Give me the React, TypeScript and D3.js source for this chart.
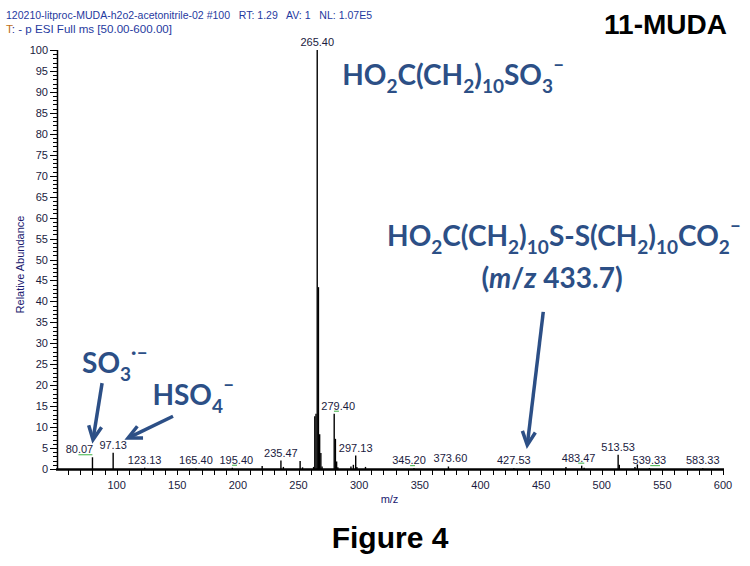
import React from "react";
import * as d3 from "d3";

// ---- data ----
const PEAK_MZ = [80.07, 97.13, 123.13, 165.4, 195.4, 220.0, 235.47, 237.5, 251.3, 253.3, 262.4, 263.4, 264.4, 265.4, 266.4, 267.4, 268.4, 269.4, 279.4, 280.4, 281.4, 282.4, 293.2, 295.2, 297.13, 298.1, 305.2, 345.2, 373.6, 427.53, 470.5, 483.47, 485.5, 513.53, 514.5, 527.4, 529.4, 539.33, 583.33];
const PEAK_ABUND = [2.8, 3.9, 0.3, 0.2, 0.3, 0.7, 2.0, 0.5, 1.9, 0.4, 0.5, 12.6, 13.2, 100, 43.4, 8.3, 3.8, 0.6, 13.2, 7.2, 1.8, 0.4, 0.6, 1.0, 3.2, 0.5, 0.5, 0.2, 0.6, 0.2, 0.5, 0.8, 0.3, 3.4, 1.0, 0.5, 1.1, 0.2, 0.2];

const LABEL_TEXT = ["80.07", "97.13", "123.13", "165.40", "195.40", "235.47", "265.40", "279.40", "297.13", "345.20", "373.60", "427.53", "483.47", "513.53", "539.33", "583.33"];
const LABEL_MZ = [80.07, 97.13, 123.13, 165.4, 195.4, 235.47, 265.4, 279.4, 297.13, 345.2, 373.6, 427.53, 483.47, 513.53, 539.33, 583.33];
const LABEL_DX = [-13, 0, 0, 0, 4, 0, 0, 4, 0, -5, 2, 0, -3, 0, 0, 0];

// small green marks under some labels (m/z from, m/z to, label m/z)
const GREEN_MARKS = [
  [68.5, 80.0, 80.07],
  [195.2, 199.3, 195.4],
  [279.2, 283.3, 279.4],
  [342.0, 346.0, 345.2],
  [480.6, 485.6, 483.47],
  [540.0, 548.0, 539.33],
];

const X_DOMAIN = [50, 600];
const Y_DOMAIN = [0, 100];
const X_MAJOR = [100, 150, 200, 250, 300, 350, 400, 450, 500, 550, 600];
const Y_MAJOR = [0, 5, 10, 15, 20, 25, 30, 35, 40, 45, 50, 55, 60, 65, 70, 75, 80, 85, 90, 95, 100];

const HEADER1 = "120210-litproc-MUDA-h2o2-acetonitrile-02 #100   RT: 1.29   AV: 1   NL: 1.07E5";
const HEADER2 = ": - p ESI Full ms [50.00-600.00]";

// arrows in data units: [fromMz, fromAbund, toMz, toAbund]
const ARROWS = [
  [88, 20.5, 80.5, 7.0],
  [146.5, 12.6, 109.4, 7.4],
  [451.8, 37.5, 438.6, 5.7],
];

type Seg = { t: string; k: "n" | "sub" | "sup" | "i" };
const F1: Seg[] = [
  { t: "HO", k: "n" }, { t: "2", k: "sub" }, { t: "C(CH", k: "n" }, { t: "2", k: "sub" }, { t: ")", k: "n" },
  { t: "10", k: "sub" }, { t: "SO", k: "n" }, { t: "3", k: "sub" }, { t: "\u2013", k: "sup" },
];
const F2: Seg[] = [
  { t: "HO", k: "n" }, { t: "2", k: "sub" }, { t: "C(CH", k: "n" }, { t: "2", k: "sub" }, { t: ")", k: "n" },
  { t: "10", k: "sub" }, { t: "S-S(CH", k: "n" }, { t: "2", k: "sub" }, { t: ")", k: "n" }, { t: "10", k: "sub" },
  { t: "CO", k: "n" }, { t: "2", k: "sub" }, { t: "\u2013", k: "sup" },
];
const F3: Seg[] = [
  { t: "(", k: "n" }, { t: "m", k: "i" }, { t: "/", k: "n" }, { t: "z", k: "i" }, { t: " 433.7)", k: "n" },
];
const F4: Seg[] = [
  { t: "SO", k: "n" }, { t: "3", k: "sub" }, { t: "\u00b7\u2013", k: "sup" },
];
const F5: Seg[] = [
  { t: "HSO", k: "n" }, { t: "4", k: "sub" }, { t: "\u2013", k: "sup" },
];

// annotation anchors in data units
const ANNOTS = [
  { segs: F1, mz: 286, ab: 91.6, anchor: "start" },
  { segs: F2, mz: 323, ab: 53.2, anchor: "start" },
  { segs: F3, mz: 459, ab: 43.2, anchor: "middle" },
  { segs: F4, mz: 71.5, ab: 22.9, anchor: "start" },
  { segs: F5, mz: 129.5, ab: 15.3, anchor: "start" },
];

const BLUE = "#2c4f86";
const SANS = "'Liberation Sans', Arial, sans-serif";

function Formula({ x, y, size, segs, anchor }: { x: number; y: number; size: number; segs: Seg[]; anchor: string }) {
  let cur = 0;
  return (
    <text x={x} y={y} fontSize={size} textAnchor={anchor} fill={BLUE} fontWeight={700} fontFamily="Lato, 'Open Sans', sans-serif">
      {segs.map((s, i) => {
        const target = s.k === "sub" ? size * 0.28 : s.k === "sup" ? -size * 0.5 : 0;
        const dy = target - cur;
        cur = target;
        const fs = s.k === "sub" ? size * 0.68 : s.k === "sup" ? size * 0.7 : size;
        return (
          <tspan key={i} dy={dy} fontSize={fs} fontStyle={s.k === "i" ? "italic" : "normal"}>
            {s.t}
          </tspan>
        );
      })}
    </text>
  );
}

export default function App() {
  const W = 750, H = 566;
  const x = d3.scaleLinear().domain(X_DOMAIN).range([56, 723]);
  const y = d3.scaleLinear().domain(Y_DOMAIN).range([469, 50]);
  const yMinor = d3.range(0, 101, 1);
  const xMinor = d3.range(60, 601, 10);

  const peakTop = (m: number) => {
    const i = d3.leastIndex(PEAK_MZ, (a, b) => Math.abs(a - m) - Math.abs(b - m)) as number;
    return y(PEAK_ABUND[i]);
  };

  return (
    <svg width={W} height={H} style={{ position: "absolute", left: 0, top: 0, background: "#fff" }} fontFamily={SANS}>
      <rect width={W} height={H} fill="#fff" />
      {/* header */}
      <text x={6} y={19} fontSize={11.5} fill="#1f3aa0" textLength={366} lengthAdjust="spacingAndGlyphs" style={{ whiteSpace: "pre" }}>{HEADER1}</text>
      <text x={6} y={33} fontSize={11.5} fill="#1f3aa0" textLength={166} lengthAdjust="spacingAndGlyphs">
        <tspan fill="#c07020">T</tspan>{HEADER2}
      </text>
      <text x={727} y={34} fontSize={28} fontWeight={700} textAnchor="end" fill="#000">11-MUDA</text>

      {/* y axis */}
      <line x1={57.5} x2={57.5} y1={y(100)} y2={y(0) + 1} stroke="#000" strokeWidth={1.5} />
      {yMinor.map((v) => (
        <line key={"ym" + v} x1={v % 5 === 0 ? 50 : 53} x2={57} y1={Math.round(y(v)) + 0.5} y2={Math.round(y(v)) + 0.5} stroke="#000" strokeWidth={1} />
      ))}
      {Y_MAJOR.map((v) => (
        <text key={"yl" + v} x={48} y={y(v) + 4} fontSize={11} textAnchor="end" fill="#1a1a40">{v}</text>
      ))}
      <text transform={`translate(24,${(y(0) + y(100)) / 2 + 5}) rotate(-90)`} fontSize={11} textAnchor="middle" fill="#1a1a70">Relative Abundance</text>

      {/* x axis */}
      <line x1={56} x2={724} y1={469.5} y2={469.5} stroke="#000" strokeWidth={2.5} />
      {xMinor.map((v) => (
        <line key={"xm" + v} x1={Math.round(x(v)) + 0.5} x2={Math.round(x(v)) + 0.5} y1={469} y2={475} stroke="#000" strokeWidth={1} />
      ))}
      {X_MAJOR.map((v) => (
        <text key={"xl" + v} x={x(v)} y={489} fontSize={11} textAnchor="middle" fill="#1a1a40">{v}</text>
      ))}
      <text x={(x(50) + x(600)) / 2} y={503} fontSize={11} textAnchor="middle" fill="#1a1a70">m/z</text>

      {/* peaks */}
      {PEAK_MZ.map((m, i) => (
        <line key={"p" + i} x1={x(m)} x2={x(m)} y1={y(0)} y2={y(PEAK_ABUND[i])} stroke="#000" strokeWidth={1.4} />
      ))}

      {/* peak labels */}
      {LABEL_MZ.map((m, i) => (
        <text key={"lb" + i} x={x(m) + LABEL_DX[i]} y={peakTop(m) - 4} fontSize={11} textAnchor="middle" fill="#1a1a40">{LABEL_TEXT[i]}</text>
      ))}
      {GREEN_MARKS.map((g, i) => (
        <line key={"gm" + i} x1={x(g[0])} x2={x(g[1])} y1={peakTop(g[2]) - 2.5} y2={peakTop(g[2]) - 2.5} stroke="#3cb043" strokeWidth={1} />
      ))}

      {/* annotations */}
      {ANNOTS.map((a, i) => (
        <Formula key={"an" + i} x={x(a.mz)} y={y(a.ab)} size={28} segs={a.segs} anchor={a.anchor} />
      ))}

      {/* arrows */}
      {ARROWS.map((a, i) => {
        const x1 = x(a[0]), y1 = y(a[1]), x2 = x(a[2]), y2 = y(a[3]);
        const ang = Math.atan2(y2 - y1, x2 - x1);
        const L = 15, spread = 0.45;
        const p1 = [x2 - L * Math.cos(ang - spread), y2 - L * Math.sin(ang - spread)];
        const p2 = [x2 - L * Math.cos(ang + spread), y2 - L * Math.sin(ang + spread)];
        return (
          <g key={"ar" + i} stroke={BLUE} strokeWidth={3.5} fill="none">
            <line x1={x1} y1={y1} x2={x2 - 2 * Math.cos(ang)} y2={y2 - 2 * Math.sin(ang)} />
            <polyline points={`${p1[0]},${p1[1]} ${x2},${y2} ${p2[0]},${p2[1]}`} strokeLinejoin="miter" />
          </g>
        );
      })}

      {/* caption */}
      <text x={390} y={548} fontSize={30} fontWeight={700} textAnchor="middle" fill="#000">Figure 4</text>
    </svg>
  );
}
